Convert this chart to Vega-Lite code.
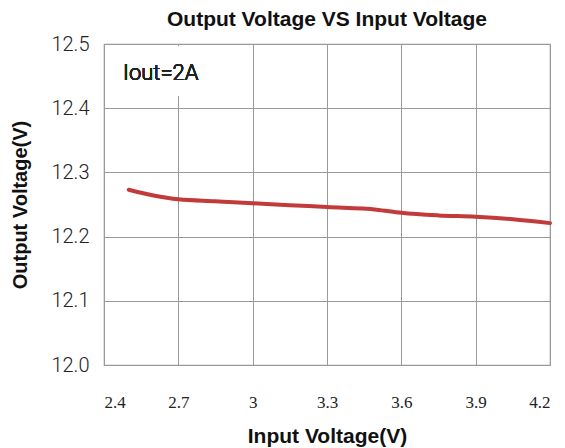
{
  "$schema": "https://vega.github.io/schema/vega-lite/v6.json",
  "width": 446,
  "height": 321,
  "autosize": "none",
  "padding": {"left": 104, "top": 44, "right": 15, "bottom": 83},
  "background": "white",
  "title": {
    "text": "Output Voltage VS Input Voltage",
    "font": "Liberation Sans",
    "fontSize": 21,
    "fontWeight": "bold",
    "color": "#111111",
    "offset": 4,
    "anchor": "middle"
  },
  "config": {
    "view": {"stroke": "#999999", "strokeWidth": 1.2},
    "axis": {
      "grid": true,
      "gridColor": "#9a9a9a",
      "gridWidth": 1,
      "gridOpacity": 1,
      "domain": false,
      "ticks": false
    }
  },
  "data": {
    "values": [
      {"vin": 2.5, "vout": 12.273},
      {"vin": 2.6, "vout": 12.264},
      {"vin": 2.7, "vout": 12.258},
      {"vin": 2.85, "vout": 12.255},
      {"vin": 3.0, "vout": 12.252},
      {"vin": 3.15, "vout": 12.249},
      {"vin": 3.3, "vout": 12.246},
      {"vin": 3.5, "vout": 12.242},
      {"vin": 3.6, "vout": 12.237},
      {"vin": 3.75, "vout": 12.233},
      {"vin": 3.9, "vout": 12.231},
      {"vin": 4.05, "vout": 12.227},
      {"vin": 4.2, "vout": 12.221}
    ]
  },
  "encoding": {
    "x": {
      "field": "vin", "type": "quantitative",
      "scale": {"domain": [2.4, 4.2], "nice": false, "zero": false},
      "axis": {
        "grid": true,
        "values": [2.4, 2.7, 3.0, 3.3, 3.6, 3.9, 4.2],
        "labelExpr": "datum.value == 3 ? '3' : format(datum.value, '.1f')",
        "labelFont": "Liberation Serif",
        "labelFontSize": 17,
        "labelColor": "#222222",
        "labelPadding": 29,
        "title": "Input Voltage(V)",
        "titleFont": "Liberation Sans",
        "titleFontSize": 21,
        "titleFontWeight": "bold",
        "titleColor": "#111111",
        "titlePadding": 15
      }
    },
    "y": {
      "field": "vout", "type": "quantitative",
      "scale": {"domain": [12.0, 12.5], "nice": false, "zero": false},
      "axis": {
        "grid": true,
        "values": [12.0, 12.1, 12.2, 12.3, 12.4, 12.5],
        "format": ".1f",
        "labelFont": "Roboto",
        "labelFontWeight": 300,
        "labelFontSize": 20,
        "labelColor": "#222222",
        "labelPadding": 15,
        "title": "Output Voltage(V)",
        "titleFont": "Liberation Sans",
        "titleFontSize": 20,
        "titleFontWeight": "bold",
        "titleColor": "#111111",
        "titlePadding": 20
      }
    }
  },
  "layer": [
    {
      "mark": {"type": "rect", "color": "white"},
      "encoding": {
        "x": {"datum": 2.405},
        "x2": {"datum": 2.78},
        "y": {"datum": 12.42},
        "y2": {"datum": 12.497}
      }
    },
    {
      "mark": {"type": "line", "color": "#c23a3a", "strokeWidth": 4, "interpolate": "monotone", "strokeCap": "round"}
    },
    {
      "mark": {"type": "text", "align": "left", "baseline": "middle", "font": "Roboto", "fontSize": 22, "fontWeight": 300, "color": "#222222"},
      "encoding": {
        "x": {"datum": 2.477},
        "y": {"datum": 12.455},
        "text": {"value": "Iout=2A"}
      }
    }
  ]
}
